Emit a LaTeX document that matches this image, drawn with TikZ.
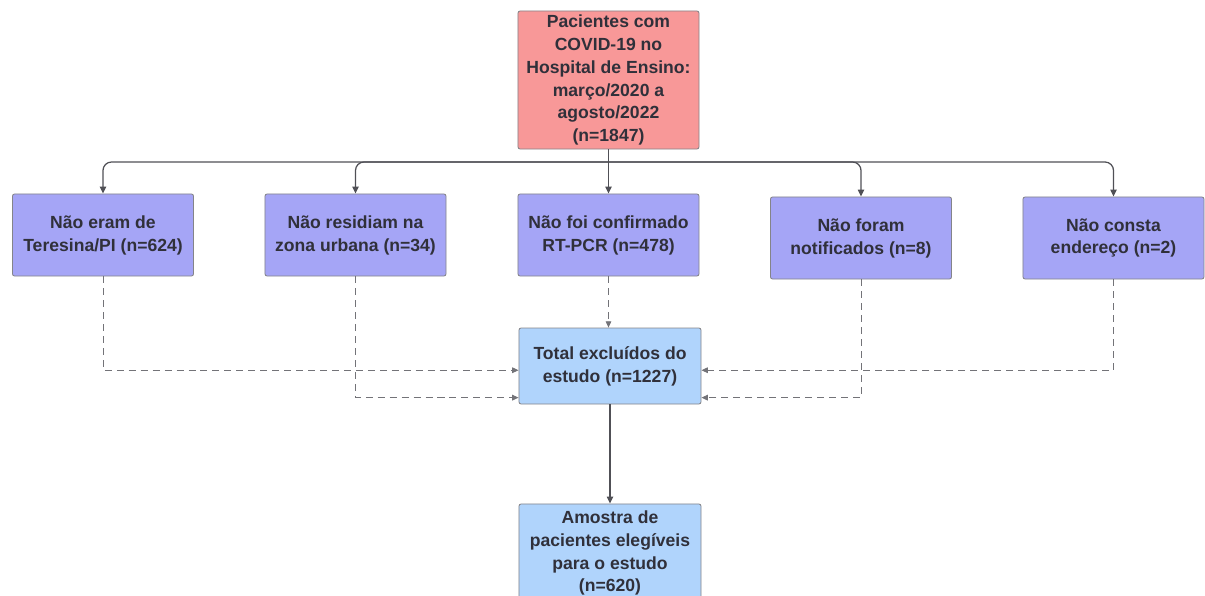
\documentclass[tikz,border=0pt]{standalone}
\usepackage{fontspec}
\setmainfont{Liberation Sans}
\usepackage{xcolor}
\usetikzlibrary{positioning,arrows.meta}
\definecolor{boxred}{RGB}{248,152,152}
\definecolor{boxpurple}{RGB}{165,165,246}
\definecolor{boxblue}{RGB}{176,212,252}
\definecolor{txtgray}{RGB}{48,48,58}
\definecolor{linegray}{RGB}{80,80,86}

\begin{document}
\begin{tikzpicture}[x=0.025cm, y=-0.025cm,
    box/.style={draw=linegray!70, line width=0.6pt, rounded corners=1.5pt,
      align=center, text=txtgray, inner sep=2pt,
      font=\fontsize{12.5}{16.3}\selectfont\bfseries},
    exclbox/.style={box, fill=boxpurple, minimum width=4.525cm, minimum height=2.05cm},
    conn/.style={draw=linegray, line width=0.9pt, -{Triangle[length=5pt,width=4.5pt]}},
    dconn/.style={draw=linegray!80, line width=0.7pt, dash pattern=on 5pt off 3.5pt,
      -{Triangle[length=4.5pt,width=4pt]}}]
  \useasboundingbox (0,0) rectangle (1205,595);

  % origem
  \node[box, fill=boxred, minimum width=4.525cm, minimum height=3.45cm] (orig) at (608.5,80)
    {Pacientes com\\COVID-19 no\\Hospital de Ensino:\\março/2020 a\\agosto/2022\\(n=1847)};

  % exclusoes
  \node[exclbox] (ex1) at (103,235) {Não eram de\\Teresina/PI (n=624)};
  \node[exclbox] (ex2) at (355.5,235) {Não residiam na\\zona urbana (n=34)};
  \node[exclbox] (ex3) at (608.5,235) {Não foi confirmado\\RT-PCR (n=478)};
  \node[exclbox] (ex4) at (861,238) {Não foram\\notificados (n=8)};
  \node[exclbox] (ex5) at (1113.5,238) {Não consta\\endereço (n=2)};

  \node[box, fill=boxblue, minimum width=4.55cm, minimum height=1.9cm] (total) at (610,366)
    {Total excluídos do\\estudo (n=1227)};
  \node[box, fill=boxblue, minimum width=4.55cm, minimum height=2.45cm] (amostra) at (610,553)
    {Amostra de\\pacientes elegíveis\\para o estudo\\(n=620)};

  % barramento
  \coordinate (bus) at (608.5,162);
  \draw[conn] (orig.south) -- (ex3.north);
  \draw[conn, rounded corners=6pt] (bus) -| (ex1.north);
  \draw[conn, rounded corners=6pt] (bus) -| (ex2.north);
  \draw[conn, rounded corners=6pt] (bus) -| (ex4.north);
  \draw[conn, rounded corners=6pt] (bus) -| (ex5.north);

  % tracejadas
  \draw[dconn] (ex1.south) |- ([yshift=-3pt]total.west);
  \draw[dconn] (ex2.south) |- ([yshift=-22.5pt]total.west);
  \draw[dconn] (ex3.south) -- (ex3.south |- total.north);
  \draw[dconn] (ex4.south) |- ([yshift=-22.5pt]total.east);
  \draw[dconn] (ex5.south) |- ([yshift=-3pt]total.east);

  \draw[conn] (total.south) -- (amostra.north);
\end{tikzpicture}
\end{document}
